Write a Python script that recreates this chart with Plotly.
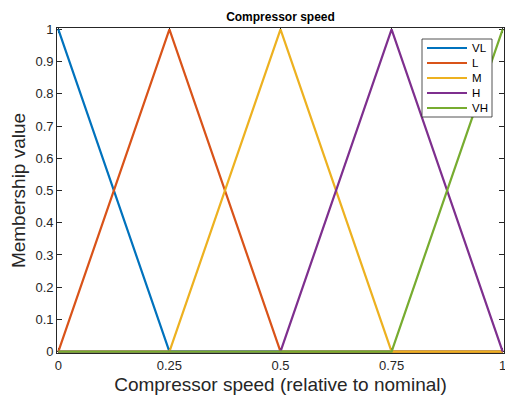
import plotly.graph_objects as go

# Breakpoints of the triangular membership functions (relative speed)
speed = [0, 0.25, 0.5, 0.75, 1]

# Membership degree of each fuzzy set at the breakpoints
names = ["VL", "L", "M", "H", "VH"]
vl = [1, 0, 0, 0, 0]
low = [0, 1, 0, 0, 0]
med = [0, 0, 1, 0, 0]
high = [0, 0, 0, 1, 0]
vh = [0, 0, 0, 0, 1]
series = [vl, low, med, high, vh]

colors = ["#0072BD", "#D95319", "#EDB120", "#7E2F8E", "#77AC30"]

x_ticks = [0, 0.25, 0.5, 0.75, 1]
x_tick_text = ["0", "0.25", "0.5", "0.75", "1"]
y_ticks = [i / 10 for i in range(11)]
y_tick_text = ["0", "0.1", "0.2", "0.3", "0.4", "0.5", "0.6", "0.7", "0.8", "0.9", "1"]

W, H = 505, 399
ML, MR, MT, MB = 57, 1, 28, 46
PW, PH = W - ML - MR, H - MT - MB

# small padding so lines lying on the axis limits are not clipped
XPAD, YPAD = 0.003, 0.004

font = "Liberation Sans, Arial, sans-serif"
ink = "#262626"

fig = go.Figure()
for name, vals, col in zip(names, series, colors):
    fig.add_trace(go.Scatter(
        x=speed, y=vals, mode="lines", name=name,
        line=dict(color=col, width=2.2),
        showlegend=False,
    ))


def px_x(p):
    return (p - ML) / PW


def px_y(p):
    return (H - MB - p) / PH


# Boxed legend in the upper-right corner of the axes
shapes = [dict(type="rect", xref="paper", yref="paper",
               x0=px_x(422), x1=px_x(492), y0=px_y(117), y1=px_y(39),
               line=dict(color=ink, width=0.8), fillcolor="white", layer="above")]
annotations = []
for i, (name, col) in enumerate(zip(names, colors)):
    cy = 48 + i * 15
    shapes.append(dict(type="line", xref="paper", yref="paper",
                       x0=px_x(427), x1=px_x(467), y0=px_y(cy), y1=px_y(cy),
                       line=dict(color=col, width=2.2), layer="above"))
    annotations.append(dict(xref="paper", yref="paper", x=px_x(470), y=px_y(cy),
                            text=name, showarrow=False, xanchor="left",
                            yanchor="middle",
                            font=dict(family=font, size=11.5, color="black")))

axis_common = dict(
    showgrid=False, zeroline=False, showline=True, linecolor=ink,
    linewidth=0.8, mirror="ticks", ticks="inside", ticklen=5,
    tickcolor=ink, tickwidth=0.8, layer="below traces",
    ticklabeloverflow="allow", automargin=False,
    tickfont=dict(family=font, size=13, color=ink),
)

fig.update_layout(
    width=W, height=H,
    margin=dict(l=ML, r=MR, t=MT, b=MB),
    paper_bgcolor="white", plot_bgcolor="white",
    title=dict(text="<b>Compressor speed</b>", x=0.5554, xanchor="center",
               y=1 - 17 / H, yanchor="middle",
               font=dict(family=font, size=12, color="black")),
    xaxis=dict(range=[-XPAD, 1 + XPAD], tickvals=x_ticks, ticktext=x_tick_text,
               title=dict(text="Compressor speed (relative to nominal)",
                          font=dict(family=font, size=19, color=ink),
                          standoff=6),
               **axis_common),
    yaxis=dict(range=[-YPAD, 1 + YPAD], tickvals=y_ticks, ticktext=y_tick_text,
               title=dict(text="Membership value",
                          font=dict(family=font, size=19, color=ink),
                          standoff=4),
               **axis_common),
    shapes=shapes,
    annotations=annotations,
    showlegend=False,
)

fig.write_html("out.html")
